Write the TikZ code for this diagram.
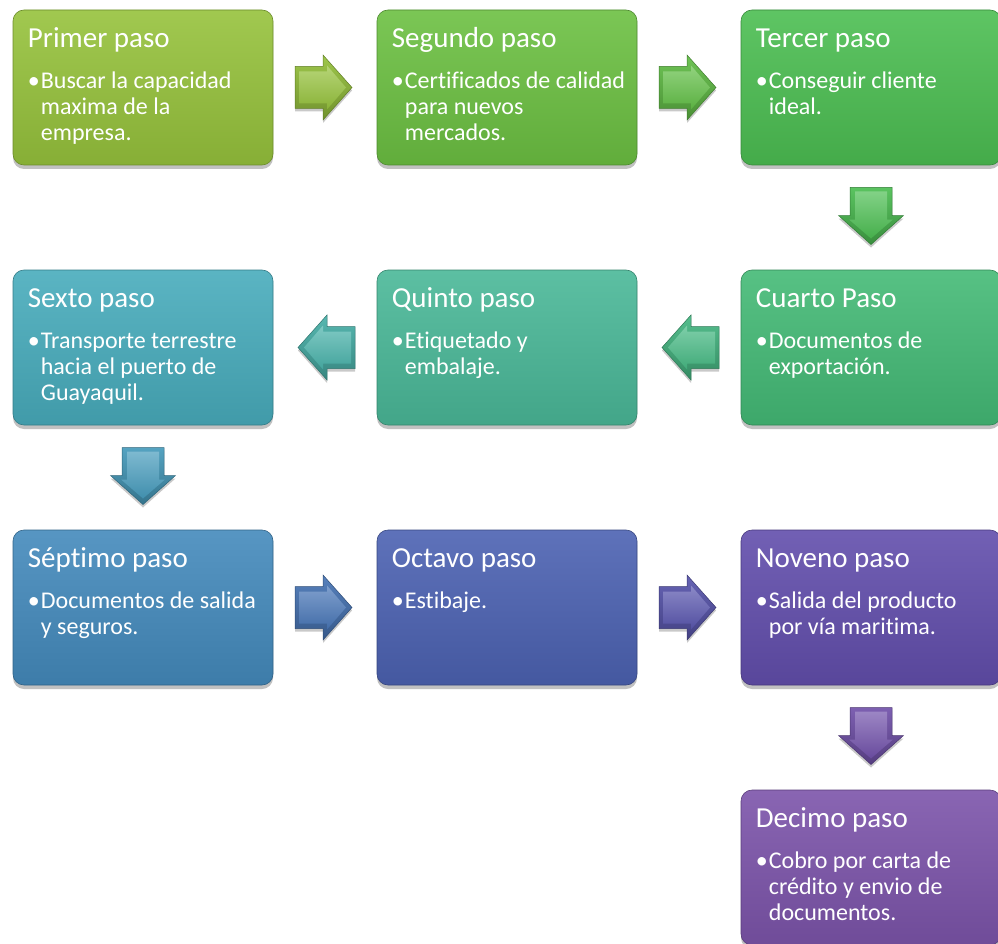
\documentclass[tikz,border=0pt]{standalone}
\usepackage{fontspec}
\setmainfont{Carlito}[Ligatures=NoCommon]
\usetikzlibrary{calc,shadows}
\definecolor{c1}{RGB}{150,194,60}
\definecolor{c2}{RGB}{108,192,66}
\definecolor{c3}{RGB}{76,190,82}
\definecolor{c4}{RGB}{68,186,118}
\definecolor{c5}{RGB}{74,184,152}
\definecolor{c6}{RGB}{72,172,188}
\definecolor{c7}{RGB}{68,138,188}
\definecolor{c8}{RGB}{76,98,178}
\definecolor{c9}{RGB}{98,78,172}
\definecolor{c10}{RGB}{124,84,170}
\tikzset{
  stepbox/.style={rounded corners=11pt, minimum width=260pt, minimum height=155pt,
    inner sep=0pt, draw=#1!72!black, line width=0.6pt,
    top color=#1!90!white, bottom color=#1!90!black,
    drop shadow={opacity=0.35, shadow xshift=0pt, shadow yshift=-4pt, fill=black!70}},
  titletext/.style={anchor=base west, inner sep=0pt, text=white,
    font=\fontsize{29}{34}\selectfont},
  bodytext/.style={anchor=base west, inner sep=0pt, text=white,
    font=\fontsize{24}{26}\selectfont},
  barrow/.style={draw=#1!65!black, line width=0.5pt,
    top color=#1!92!white, bottom color=#1!75!black,
    drop shadow={opacity=0.3, shadow xshift=0pt, shadow yshift=-3pt, fill=black!70}},
  bface/.style={top color=#1!70!white, bottom color=#1!92!black},
}
\newcommand\stepnode[5]{%
  \node[stepbox=#3] (#1) at (#2) {};
  \node[titletext] (#1t) at ($(#1.north west)+(15,-38)$) {#4};
  \node[bodytext] (#1b) at ($(#1.north west)+(15,-79)$)
    {\makebox[13pt][l]{•}\parbox[t]{235pt}{#5}};
}
\newcommand\rarrow[2]{\begin{scope}[shift={(#1)}]
  \path[barrow=#2] (-30,21) -- (-2,21) -- (-2,32.5) -- (27,0) -- (-2,-32.5) -- (-2,-21) -- (-30,-21) -- cycle;
  \path[bface=#2] (-26,16) -- (2,16) -- (2,22) -- (21,0) -- (2,-22) -- (2,-16) -- (-26,-16) -- cycle;
\end{scope}}
\newcommand\larrow[2]{\begin{scope}[shift={(#1)}]
  \path[barrow=#2] (30,21) -- (2,21) -- (2,32.5) -- (-27,0) -- (2,-32.5) -- (2,-21) -- (30,-21) -- cycle;
  \path[bface=#2] (26,16) -- (-2,16) -- (-2,22) -- (-21,0) -- (-2,-22) -- (-2,-16) -- (26,-16) -- cycle;
\end{scope}}
\newcommand\darrow[2]{\begin{scope}[shift={(#1)}]
  \path[barrow=#2] (-21,30) -- (-21,2) -- (-32.5,2) -- (0,-27) -- (32.5,2) -- (21,2) -- (21,30) -- cycle;
  \path[bface=#2] (-16,26) -- (-16,-2) -- (-22,-2) -- (0,-21) -- (22,-2) -- (16,-2) -- (16,26) -- cycle;
\end{scope}}
\begin{document}
\begin{tikzpicture}[x=1pt,y=1pt]
\useasboundingbox (0,0) rectangle (998,-944);
\stepnode{b1}{143,-87.5}{c1}{Primer paso}{Buscar la capacidad\\maxima de la\\empresa.}
\stepnode{b2}{507,-87.5}{c2}{Segundo paso}{Certificados de calidad\\para nuevos\\mercados.}
\stepnode{b3}{871,-87.5}{c3}{Tercer paso}{Conseguir cliente\\ideal.}
\stepnode{b4}{871,-347.5}{c4}{Cuarto Paso}{Documentos de\\exportación.}
\stepnode{b5}{507,-347.5}{c5}{Quinto paso}{Etiquetado y\\embalaje.}
\stepnode{b6}{143,-347.5}{c6}{Sexto paso}{Transporte terrestre\\hacia el puerto de\\Guayaquil.}
\stepnode{b7}{143,-607.5}{c7}{Séptimo paso}{Documentos de salida\\y seguros.}
\stepnode{b8}{507,-607.5}{c8}{Octavo paso}{Estibaje.}
\stepnode{b9}{871,-607.5}{c9}{Noveno paso}{Salida del producto\\por vía maritima.}
\stepnode{b10}{871,-867.5}{c10}{Decimo paso}{Cobro por carta de\\crédito y envio de\\documentos.}
\coordinate (a12) at ($(b1.east)!0.5!(b2.west)$);
\coordinate (a23) at ($(b2.east)!0.5!(b3.west)$);
\coordinate (a34) at ($(b3.south)!0.5!(b4.north)$);
\coordinate (a45) at ($(b4.west)!0.5!(b5.east)$);
\coordinate (a56) at ($(b5.west)!0.5!(b6.east)$);
\coordinate (a67) at ($(b6.south)!0.5!(b7.north)$);
\coordinate (a78) at ($(b7.east)!0.5!(b8.west)$);
\coordinate (a89) at ($(b8.east)!0.5!(b9.west)$);
\coordinate (a910) at ($(b9.south)!0.5!(b10.north)$);
\rarrow{a12}{c1}
\rarrow{a23}{c2!70!c3}
\darrow{a34}{c3}
\larrow{a45}{c4!60!c5}
\larrow{a56}{c5!50!c6}
\darrow{a67}{c6!50!c7}
\rarrow{a78}{c7!50!c8}
\rarrow{a89}{c8!40!c9}
\darrow{a910}{c9!40!c10}
\end{tikzpicture}
\end{document}
